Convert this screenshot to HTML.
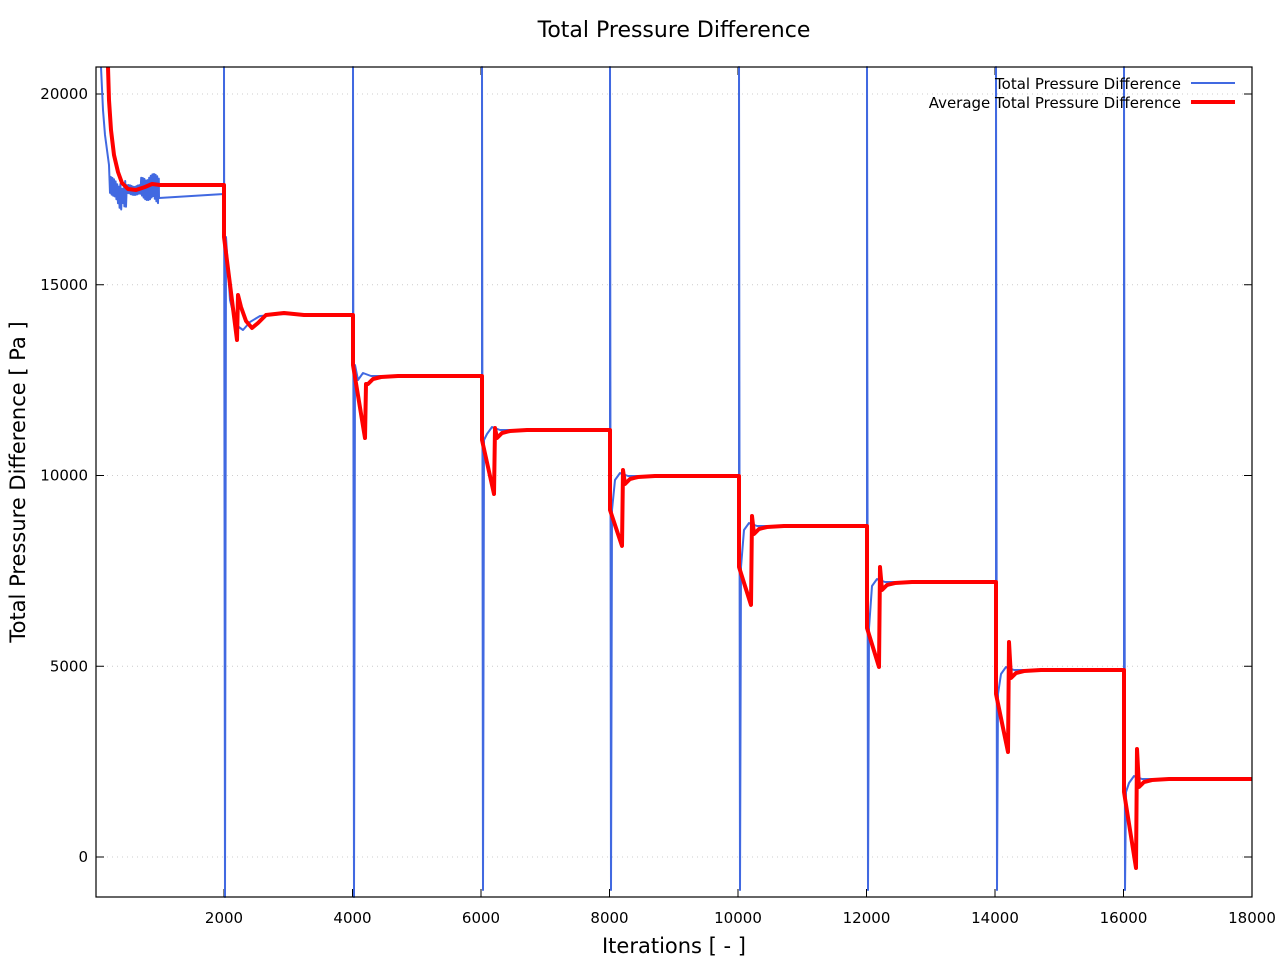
<!DOCTYPE html>
<html><head><meta charset="utf-8"><style>
html,body{margin:0;padding:0;background:#fff;}
svg{display:block;font-family:"DejaVu Sans","Liberation Sans",sans-serif;}
</style></head><body>
<svg id="s" width="1280" height="960" xmlns="http://www.w3.org/2000/svg">
<rect width="1280" height="960" fill="#fff"/>
<text x="674" y="37" font-size="22" text-anchor="middle" fill="#000">Total Pressure Difference</text>
<g id="grid" stroke="#ccc" stroke-dasharray="1,4" stroke-width="1"></g>
<g id="ticks" stroke="#000" stroke-width="1"></g>
<g id="labels" font-size="15" fill="#000"></g>
<g id="blue" fill="none" stroke="#4169e1" stroke-width="2" stroke-linejoin="round"></g>
<g id="red" fill="none" stroke="#ff0000" stroke-width="4" stroke-linejoin="round"></g>
<rect x="96" y="67" width="1156" height="830" fill="none" stroke="#000" stroke-width="1.2"/>
<text x="1181" y="89" font-size="15" text-anchor="end">Total Pressure Difference</text>
<line x1="1191" y1="83" x2="1235" y2="83" stroke="#4169e1" stroke-width="2"/>
<text x="1181" y="108" font-size="15" text-anchor="end">Average Total Pressure Difference</text>
<line x1="1191" y1="102" x2="1235" y2="102" stroke="#ff0000" stroke-width="4"/>
<text x="674" y="953" font-size="21" text-anchor="middle">Iterations [ - ]</text>
<text transform="translate(25,482) rotate(-90)" font-size="21" text-anchor="middle">Total Pressure Difference [ Pa ]</text>
</svg>
<script>
const NS="http://www.w3.org/2000/svg";
function el(p,t,a,txt){const e=document.createElementNS(NS,t);for(const k in a)e.setAttribute(k,a[k]);if(txt!==undefined)e.textContent=txt;document.getElementById(p).appendChild(e);return e;}
const X=v=>95.5+v/2000*128.5, Y=v=>857-v/5000*190.75;
for(let v=0;v<=20000;v+=5000){const y=Y(v);
 el("grid","line",{x1:97,x2:1251,y1:y,y2:y});
 el("ticks","line",{x1:96,x2:104,y1:y,y2:y});el("ticks","line",{x1:1244,x2:1252,y1:y,y2:y});
 el("labels","text",{x:88,y:y+5,"text-anchor":"end"},v);}
for(let v=2000;v<=18000;v+=2000){const x=X(v);
 el("ticks","line",{x1:x,x2:x,y1:889,y2:897});el("ticks","line",{x1:x,x2:x,y1:67,y2:75});
 el("labels","text",{x:x,y:923,"text-anchor":"middle"},v);}
let r=[[108,67],[109,100],[111,130],[114,155],[118,172],[122,183],[128,189],[136,190],[145,187],[152,184],[160,185],[224,185]];
const steps=[[224,185,237,340,295,315],[353,315,365,438,384,376],[482,376,440,494,428,430],[610,430,510,546,470,476],[739,476,567,605,516,526],[867,526,628,667,567,582],[996,582,694,752,642,670],[1124,670,792,868,749,779]];
const ends=[353,482,610,739,867,996,1124,1252];
let b="M101,67 L103,110 L105,135 L107,150 L109,165";
let k=0;
for(let x=110;x<159;x+=0.8){k++;
 let c,amp;
 if(x<118){c=195-(118-x)*1.5;amp=10;} else if(x<126){c=195;amp=12+Math.sin(k)*4;} else if(x<140){c=190;amp=5;} else {c=188;amp=10+ (x-140)*0.3;}
 const s=(k%2?1:-1)*amp*(0.55+0.45*Math.abs(Math.sin(k*1.37)));
 b+=` L${x.toFixed(1)},${(c+s).toFixed(1)}`;}
b+=" L159,198 L224,194";
steps.forEach((s,i)=>{const [x0,L0,d,mn,sp,L1]=s;
 if(i==0){
  r.push([x0,d],[x0+13,mn],[x0+14,sp],[x0+17,L1-8],[x0+22,L1+6],[x0+28,L1+13],[x0+34,L1+8],[x0+42,L1],[x0+60,L1-2],[x0+80,L1],[ends[i],L1]);
  b+=` L${x0},67 L${x0+1},897 L${x0+2},${d} L${x0+6},300 L${x0+12},325 L${x0+19},330 L${x0+26},322 L${x0+36},316 L${x0+60},314 L${ends[i]},${L1}`;
 } else {
  r.push([x0,d],[x0+12,mn],[x0+13,sp],[x0+15,L1+8],[x0+20,L1+3],[x0+28,L1+1],[x0+45,L1],[ends[i],L1]);
  const bot=(i<2)?897:890;
  b+=` L${x0},67 L${x0+1},${bot} L${x0+2},${d} L${x0+5},${L1+4} L${x0+10},${L1-3} L${x0+18},${L1} L${ends[i]},${L1}`;
 }
});
el("blue","path",{d:b});
el("red","path",{d:"M"+r.map(p=>p.join(",")).join(" L")});
</script>
</body></html>
